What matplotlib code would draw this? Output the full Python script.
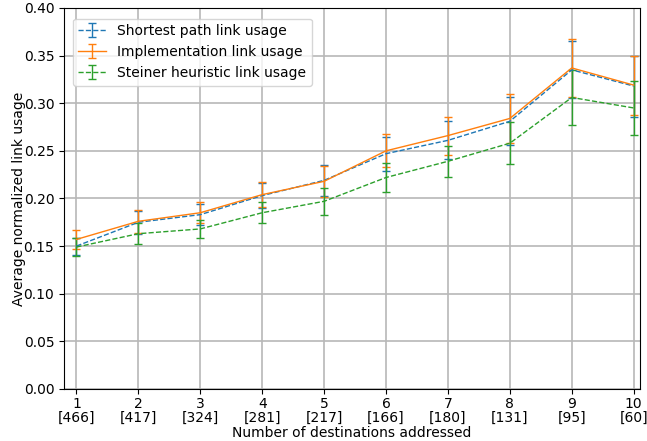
import numpy as np
import matplotlib
matplotlib.use("Agg")
import matplotlib.pyplot as plt

n_dest = [1, 2, 3, 4, 5, 6, 7, 8, 9, 10]
n_samples = [466, 417, 324, 281, 217, 166, 180, 131, 95, 60]

shortest = [0.150, 0.175, 0.183, 0.203, 0.219, 0.247, 0.261, 0.281, 0.335, 0.318]
shortest_err = [0.009, 0.012, 0.011, 0.013, 0.0165, 0.018, 0.020, 0.025, 0.030, 0.032]

impl = [0.157, 0.176, 0.185, 0.204, 0.218, 0.250, 0.266, 0.284, 0.337, 0.319]
impl_err = [0.010, 0.012, 0.011, 0.013, 0.016, 0.0175, 0.020, 0.0255, 0.030, 0.031]

steiner = [0.149, 0.163, 0.168, 0.185, 0.197, 0.222, 0.239, 0.258, 0.306, 0.295]
steiner_err = [0.009, 0.011, 0.0095, 0.011, 0.014, 0.015, 0.016, 0.022, 0.029, 0.028]

FS = 10

fig = plt.figure(figsize=(6.47, 4.41), dpi=100)
ax = fig.add_axes([0.099, 0.118, 0.890, 0.864])

ax.errorbar(n_dest, shortest, yerr=shortest_err, color="C0", linestyle="--",
            linewidth=1, capsize=3, label="Shortest path link usage")
ax.errorbar(n_dest, impl, yerr=impl_err, color="C1", linestyle="-",
            linewidth=1, capsize=3, label="Implementation link usage")
ax.errorbar(n_dest, steiner, yerr=steiner_err, color="C2", linestyle="--",
            linewidth=1, capsize=3, label="Steiner heuristic link usage")

ax.set_xlim(0.8, 10.1)
ax.set_ylim(0, 0.4)
ax.set_xticks(n_dest)
ax.set_xticklabels([f"{d}\n[{s}]" for d, s in zip(n_dest, n_samples)],
                   fontsize=FS, linespacing=1.05)
ax.set_yticks(np.arange(0, 0.41, 0.05))
ax.set_yticklabels([f"{v:.2f}" for v in np.arange(0, 0.41, 0.05)], fontsize=FS)
ax.tick_params(axis="x", pad=2)
ax.grid(True, color="#b8b8b8", linewidth=1.2)
ax.set_axisbelow(True)

ax.set_xlabel("Number of destinations addressed", fontsize=FS)
ax.xaxis.set_label_coords(0.5, -0.096)
ax.set_ylabel("Average normalized link usage", fontsize=FS)
ax.yaxis.set_label_coords(-0.066, 0.5)
ax.legend(loc="upper left", bbox_to_anchor=(0.003, 0.99), fontsize=FS)

plt.savefig("out.png", dpi=100)
